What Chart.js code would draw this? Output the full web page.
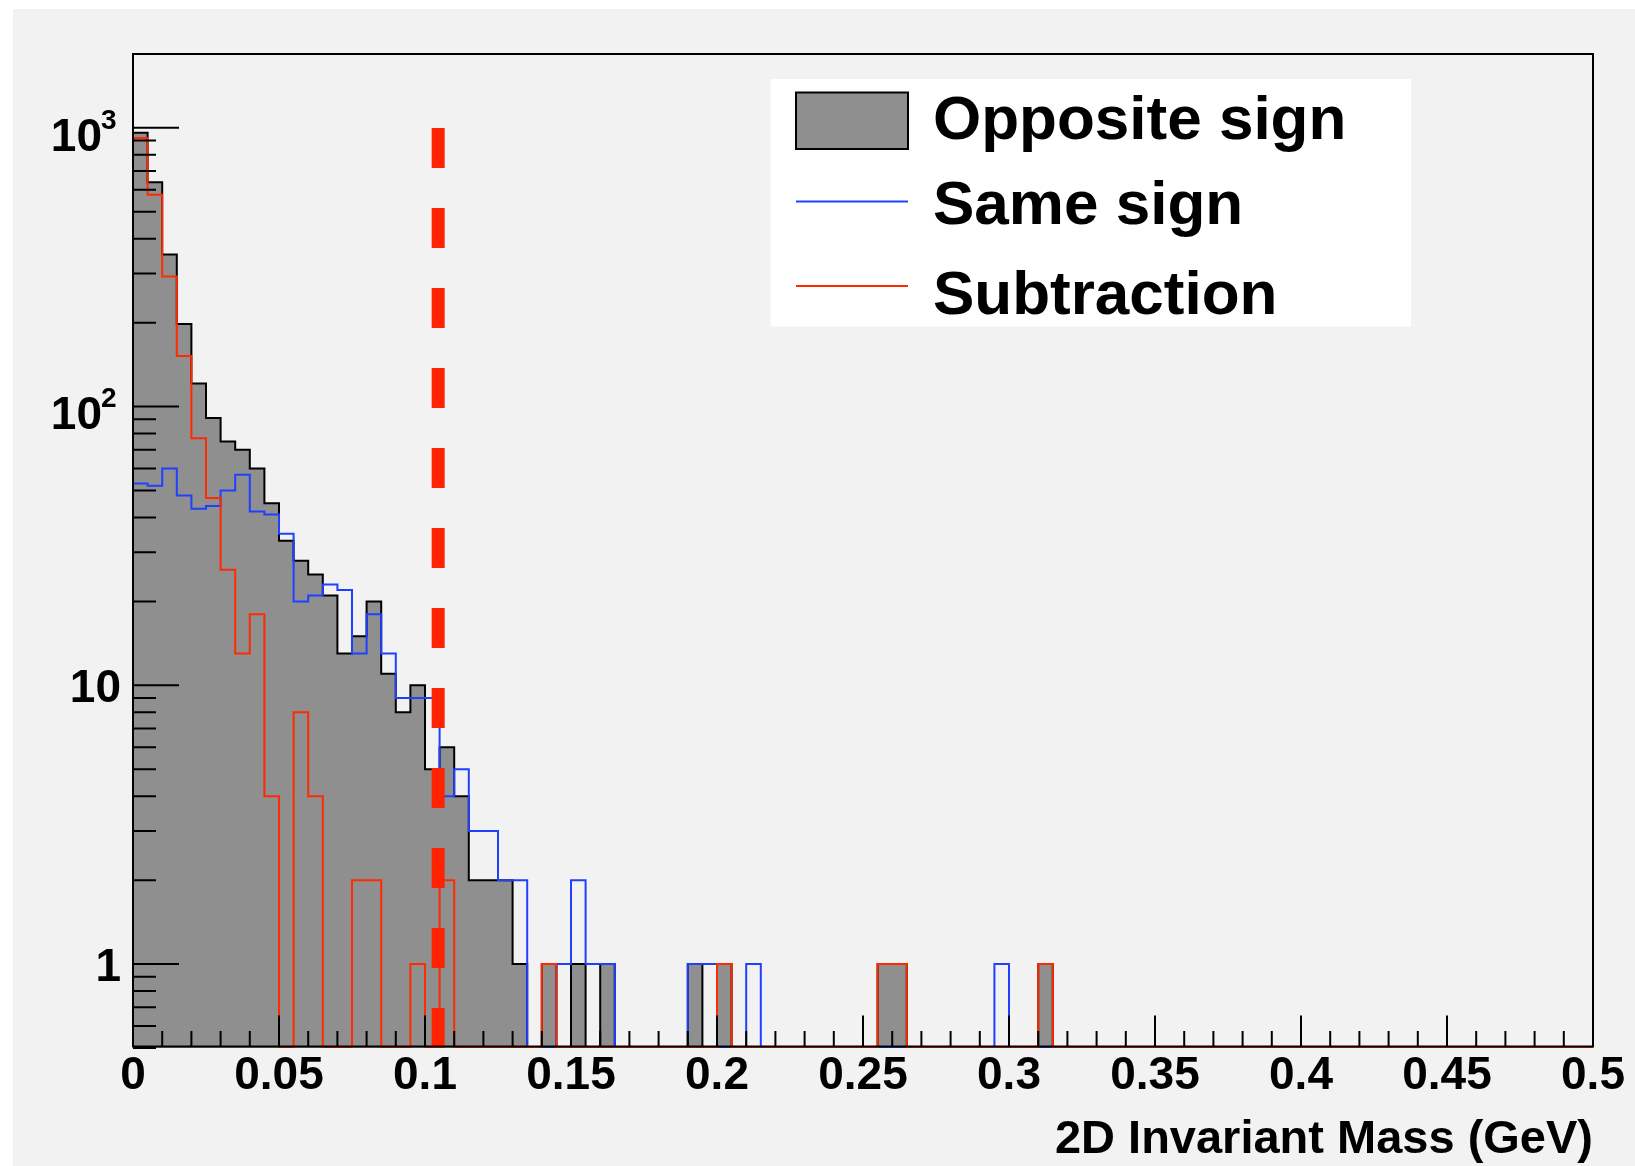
<!DOCTYPE html>
<html>
<head>
<meta charset="utf-8">
<script src="https://cdn.jsdelivr.net/npm/chart.js@4/dist/chart.umd.min.js"></script>
<style>
html,body{margin:0;padding:0;background:#ffffff;}
canvas{display:block;}
</style>
</head>
<body>
<canvas id="c" width="1635" height="1166"></canvas>
<script>
// ---- data ----
const xMin = 0;
const xMax = 0.5;
const binWidth = 0.005; // 100 bins
const oppositeSign = [
  960, 638, 351, 198, 121, 91, 75, 70, 60, 45,
  33, 28, 25, 21, 13, 15, 20, 11, 8, 10,
  5, 6, 4, 2, 2, 2, 1, 0, 1, 0,
  1, 0, 1, 0, 0, 0, 0, 0, 1, 0,
  1, 0, 0, 0, 0, 0, 0, 0, 0, 0,
  0, 1, 1, 0, 0, 0, 0, 0, 0, 0,
  0, 0, 1, 0, 0, 0, 0, 0, 0, 0,
  0, 0, 0, 0, 0, 0, 0, 0, 0, 0,
  0, 0, 0, 0, 0, 0, 0, 0, 0, 0,
  0, 0, 0, 0, 0, 0, 0, 0, 0, 0
];
const sameSign = [
  53, 52, 60, 48, 43, 44, 50, 57, 42, 41,
  35, 20, 21, 23, 22, 13, 18, 13, 9, 9,
  9, 4, 5, 3, 3, 2, 2, 0, 0, 1,
  2, 1, 1, 0, 0, 0, 0, 0, 1, 1,
  0, 0, 1, 0, 0, 0, 0, 0, 0, 0,
  0, 0, 0, 0, 0, 0, 0, 0, 0, 1,
  0, 0, 0, 0, 0, 0, 0, 0, 0, 0,
  0, 0, 0, 0, 0, 0, 0, 0, 0, 0,
  0, 0, 0, 0, 0, 0, 0, 0, 0, 0,
  0, 0, 0, 0, 0, 0, 0, 0, 0, 0
];
// bins that are empty or negative are shown on the floor (0)
const subtraction = [
  920, 575, 293, 152, 77, 47, 26, 13, 18, 4,
  0, 8, 4, 0, 0, 2, 2, 0, 0, 1,
  0, 2, 0, 0, 0, 0, 0, 0, 1, 0,
  0, 0, 0, 0, 0, 0, 0, 0, 0, 0,
  1, 0, 0, 0, 0, 0, 0, 0, 0, 0,
  0, 1, 1, 0, 0, 0, 0, 0, 0, 0,
  0, 0, 1, 0, 0, 0, 0, 0, 0, 0,
  0, 0, 0, 0, 0, 0, 0, 0, 0, 0,
  0, 0, 0, 0, 0, 0, 0, 0, 0, 0,
  0, 0, 0, 0, 0, 0, 0, 0, 0, 0
];
const cutMass = [0.1045];
const cutRange = [0.5, 1000];
const seriesNames = ['Opposite sign', 'Same sign', 'Subtraction'];
const xTickValues = [0, 0.05, 0.1, 0.15, 0.2, 0.25, 0.3, 0.35, 0.4, 0.45, 0.5];
const xTickLabels = ['0', '0.05', '0.1', '0.15', '0.2', '0.25', '0.3', '0.35', '0.4', '0.45', '0.5'];
const yTickValues = [1, 10, 100, 1000];
const yTickBase = ['1', '10', '10', '10'];
const yTickExp = ['', '', '2', '3'];
const yMin = 0.5;
const yMax = 1840;
const xTitle = '2D Invariant Mass (GeV)';

// ---- styling ----
const FONT = "'Liberation Sans', Arial, Helvetica, sans-serif";
const C_FILL = '#8f8f8f';
const C_BLUE = '#2040ff';
const C_RED = '#ff2a00';
const C_CUT = '#ff2200';

function stepPoints(values) {
  const pts = [{x: xMin, y: yMin}];
  values.forEach((v, i) => pts.push({x: xMin + i * binWidth, y: v > 0 ? v : yMin}));
  pts.push({x: xMax, y: yMin});
  return pts;
}

const rootStyle = {
  id: 'rootStyle',
  beforeDraw(chart) {
    const ctx = chart.ctx;
    ctx.save();
    ctx.fillStyle = '#ffffff';
    ctx.fillRect(0, 0, chart.width, chart.height);
    ctx.fillStyle = '#f2f2f2';
    ctx.fillRect(13, 9, chart.width - 13, chart.height - 9);
    ctx.restore();
  },
  afterDatasetsDraw(chart) {
    const ctx = chart.ctx;
    const xs = chart.scales.x, ys = chart.scales.y, a = chart.chartArea;
    const axisY = a.bottom - 1.5;
    ctx.save();
    ctx.strokeStyle = '#000';
    ctx.lineWidth = 2;
    ctx.lineCap = 'butt';
    ctx.beginPath();
    // x ticks (inward)
    for (let i = 0; i <= 50; i++) {
      const px = xs.getPixelForValue(i * 0.01);
      const len = (i % 5 === 0) ? 31 : 15.5;
      ctx.moveTo(px, axisY);
      ctx.lineTo(px, axisY - len);
    }
    // y ticks (inward, log)
    for (let d = 0.1; d <= 10000; d *= 10) {
      for (let m = 1; m <= 9; m++) {
        const v = m * d;
        if (v < ys.min || v > ys.max) continue;
        const py = ys.getPixelForValue(v);
        const len = (m === 1) ? 46 : 23;
        ctx.moveTo(a.left, py);
        ctx.lineTo(a.left + len, py);
      }
    }
    ctx.stroke();
    // frame
    ctx.strokeRect(a.left, a.top, a.right - a.left, axisY - a.top);

    // y tick labels with superscript exponents
    ctx.fillStyle = '#000';
    ctx.textBaseline = 'alphabetic';
    yTickValues.forEach((v, i) => {
      const py = ys.getPixelForValue(v);
      if (yTickExp[i]) {
        ctx.font = 'bold 28px ' + FONT;
        ctx.textAlign = 'left';
        ctx.fillText(yTickExp[i], 101, py + 0.8);
        ctx.font = 'bold 46px ' + FONT;
        ctx.textAlign = 'right';
        ctx.fillText(yTickBase[i], 102, py + 22.7);
      } else {
        ctx.font = 'bold 46px ' + FONT;
        ctx.textAlign = 'right';
        ctx.fillText(yTickBase[i], 121, py + 16.5);
      }
    });

    // legend
    ctx.fillStyle = '#ffffff';
    ctx.fillRect(770.5, 79, 640.5, 247.5);
    ctx.fillStyle = C_FILL;
    ctx.fillRect(796, 92.5, 112, 56.5);
    ctx.strokeStyle = '#000';
    ctx.lineWidth = 2;
    ctx.strokeRect(796, 92.5, 112, 56.5);
    ctx.beginPath();
    ctx.strokeStyle = C_BLUE;
    ctx.moveTo(796, 201.5); ctx.lineTo(908, 201.5);
    ctx.stroke();
    ctx.beginPath();
    ctx.strokeStyle = C_RED;
    ctx.moveTo(796, 286); ctx.lineTo(908, 286);
    ctx.stroke();
    ctx.fillStyle = '#000';
    ctx.font = 'bold 62px ' + FONT;
    ctx.textAlign = 'left';
    ctx.textBaseline = 'alphabetic';
    ctx.fillText(seriesNames[0], 933, 138.5);
    ctx.fillText(seriesNames[1], 933, 223.5);
    ctx.fillText(seriesNames[2], 933, 313.5);
    ctx.restore();
  }
};

new Chart(document.getElementById('c'), {
  type: 'line',
  data: {
    datasets: [
      {
        label: 'cut',
        data: [{x: cutMass[0], y: cutRange[0]}, {x: cutMass[0], y: cutRange[1]}],
        borderColor: C_CUT, borderWidth: 13, borderDash: [40, 40], borderCapStyle: 'butt',
        pointRadius: 0, fill: false, order: 0
      },
      {
        label: seriesNames[2],
        data: stepPoints(subtraction),
        borderColor: C_RED, borderWidth: 2, stepped: true,
        pointRadius: 0, fill: false, order: 1
      },
      {
        label: seriesNames[1],
        data: stepPoints(sameSign),
        borderColor: C_BLUE, borderWidth: 2, stepped: true,
        pointRadius: 0, fill: false, order: 2
      },
      {
        label: seriesNames[0],
        data: stepPoints(oppositeSign),
        borderColor: '#000000', backgroundColor: C_FILL, borderWidth: 2, stepped: true,
        pointRadius: 0, fill: 'start', order: 3
      }
    ]
  },
  options: {
    responsive: false,
    animation: false,
    devicePixelRatio: 1,
    layout: {padding: {left: 0, right: 42, top: 54, bottom: 0}},
    plugins: {legend: {display: false}, tooltip: {enabled: false}},
    scales: {
      x: {
        type: 'linear', min: xMin, max: xMax,
        afterFit(s) { s.height = 118; },
        afterBuildTicks(s) { s.ticks = xTickValues.map(v => ({value: v})); },
        grid: {display: false, drawTicks: false},
        border: {display: false},
        ticks: {
          callback: (v, i) => xTickLabels[i],
          font: {family: FONT, size: 46, weight: 'bold', lineHeight: 1},
          color: '#000', padding: 5.5, maxRotation: 0, autoSkip: false
        },
        title: {
          display: true, text: xTitle, align: 'end', color: '#000',
          font: {family: FONT, size: 47, weight: 'bold', lineHeight: 1},
          padding: {top: 0, bottom: 2}
        }
      },
      y: {
        type: 'logarithmic', min: yMin, max: yMax,
        afterFit(s) { s.width = 133; },
        afterBuildTicks(s) { s.ticks = yTickValues.map(v => ({value: v})); },
        grid: {display: false, drawTicks: false},
        border: {display: false},
        ticks: {display: false}
      }
    }
  },
  plugins: [rootStyle]
});
</script>
</body>
</html>
